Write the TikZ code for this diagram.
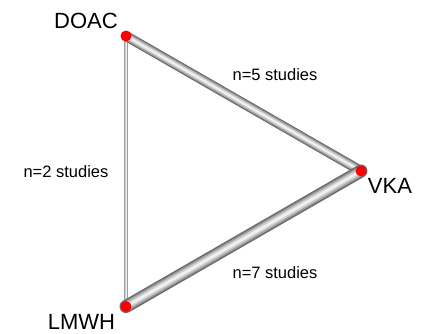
\documentclass[tikz,border=0pt]{standalone}
\usepackage{fontspec}
\setmainfont{Liberation Sans}
\begin{document}
\begin{tikzpicture}[x=1pt,y=-1pt,
  dot/.style={circle,fill=red,inner sep=0pt,minimum size=11pt},
  lab/.style={font=\fontsize{22}{26}\selectfont,inner sep=0pt},
  elab/.style={font=\fontsize{16.5}{20}\selectfont,inner sep=0pt},
  tube/.style={line cap=round,draw=gray!85!black,line width=#1,
    postaction={draw=gray!75,line width=0.75*#1,line cap=round},
    postaction={draw=gray!40,line width=0.5*#1,line cap=round},
    postaction={draw=gray!12,line width=0.22*#1,line cap=round}}]
\useasboundingbox[fill=white] (0,0) rectangle (425,333);
\coordinate (D) at (126,36);
\coordinate (V) at (361,171);
\coordinate (L) at (126,306.5);
\draw[tube=4.5pt] (D) -- (L);
\draw[tube=10pt] (D) -- (V);
\draw[tube=13pt] (L) -- (V);
\node[dot] (dD) at (D) {};
\node[dot] (dV) at (V) {};
\node[dot] (dL) at (L) {};
\node[lab] (tD) at (86,21) {DOAC};
\node[lab] (tV) at (390,186) {VKA};
\node[lab] (tL) at (81.5,321.5) {LMWH};
\node[elab] (e5) at (275,75) {n=5 studies};
\node[elab] (e2) at (66,171.5) {n=2 studies};
\node[elab] (e7) at (275,273) {n=7 studies};
\end{tikzpicture}
\end{document}
